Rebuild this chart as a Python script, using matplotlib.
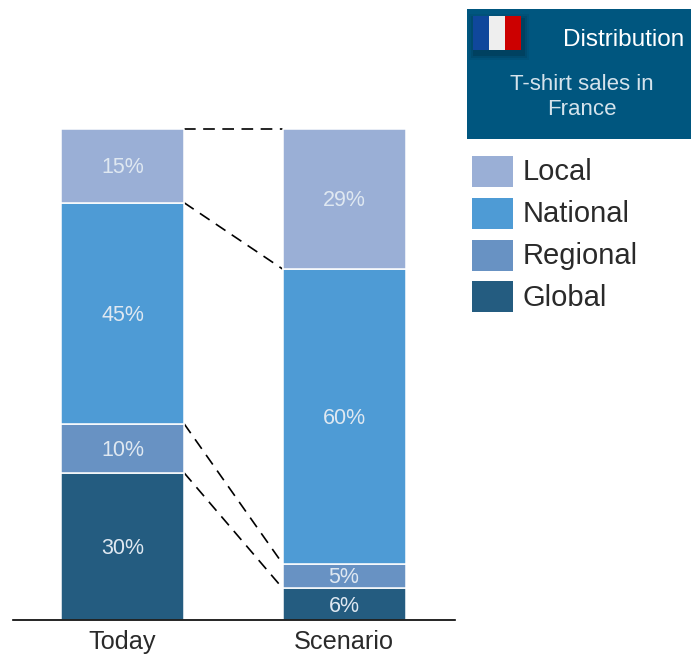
import numpy as np
import matplotlib
matplotlib.use('Agg')
import matplotlib.pyplot as plt
from matplotlib.patches import Rectangle

plt.rcParams['font.family'] = ['Liberation Sans', 'DejaVu Sans']

categories = ['Today', 'Scenario']
series = ['Global', 'Regional', 'National', 'Local']
# heights, the printed labels are rounded
global_share = [30, 6.5]
regional_share = [10, 5]
national_share = [45, 60]
local_share = [15, 28.5]
global_labels = ['30%', '6%']
regional_labels = ['10%', '5%']
national_labels = ['45%', '60%']
local_labels = ['15%', '29%']
colors = ['#245c80', '#6892c3', '#4e9bd5', '#9aafd6']
legend_order = ['Local', 'National', 'Regional', 'Global']

W, H = 691, 657
fig = plt.figure(figsize=(W / 100, H / 100), dpi=100)
# axes box: x 13-455 px, y 129-620 px
ax = fig.add_axes([13 / W, 1 - 620 / H, 442 / W, 491 / H])

x = np.array([0, 1])
gap = 221.5
width = 123 / gap
ax.set_xlim(-(122.5 - 13) / gap, (455 - 122.5) / gap)
ax.set_ylim(0, 100)

values = [global_share, regional_share, national_share, local_share]
labels = [global_labels, regional_labels, national_labels, local_labels]
bottom = np.zeros(2)
tops = []
for vals, labs, c in zip(values, labels, colors):
    vals = np.array(vals)
    ax.bar(x, vals, width, bottom=bottom, color=c, edgecolor='white', linewidth=1.1, zorder=2, clip_on=False)
    for xi, v, b, lab in zip(x, vals, bottom, labs):
        ax.text(xi, b + v / 2 - 0.4, lab, color='#dfe8f1', fontsize=15.5,
                ha='center', va='center', zorder=3)
    bottom = bottom + vals
    tops.append(bottom.copy())

# dashed connectors between the stacks
for t in tops:
    ax.plot([width / 2, 1 - width / 2], t, color='black', lw=1.2, dashes=(7, 4.5), zorder=1, clip_on=False)

ax.set_xticks(x)
ax.set_xticklabels(categories, fontsize=18.2, color='#2a2a2a')
ax.tick_params(axis='x', length=0, pad=7.5)
ax.set_yticks([])
for s in ['top', 'left', 'right']:
    ax.spines[s].set_visible(False)
ax.spines['bottom'].set_linewidth(1.2)
ax.spines['bottom'].set_zorder(4)

# header box
bg = fig.add_axes([0, 0, 1, 1], zorder=5)
bg.set_xlim(0, W)
bg.set_ylim(H, 0)
bg.axis('off')
bg.add_patch(Rectangle((467, 9), 224, 130, color='#00567f', lw=0))
# soft flag shadow
for grow, alpha in zip([6, 4, 2], [0.05, 0.08, 0.12]):
    bg.add_patch(Rectangle((475 - grow, 20 - grow), 48 + 2 * grow, 34 + 2 * grow, color='black', alpha=alpha, lw=0))
bg.add_patch(Rectangle((473, 16), 16, 34, color='#0f479b', lw=0))
bg.add_patch(Rectangle((489, 16), 16, 34, color='#eeeeee', lw=0))
bg.add_patch(Rectangle((505, 16), 16, 34, color='#cc0000', lw=0))
bg.text(684, 39.5, 'Distribution', color='white', fontsize=17.5, ha='right', va='center')
bg.text(582, 97, 'T-shirt sales in\nFrance', color='#d5e3ec', fontsize=16, ha='center', va='center', linespacing=1.25)

# legend
legend_y = [156, 198, 240, 281]
for name, y0 in zip(legend_order, legend_y):
    c = colors[series.index(name)]
    bg.add_patch(Rectangle((472, y0), 41, 31, color=c, lw=0))
    bg.text(523, y0 + 16.5, name, color='#2a2a2a', fontsize=21, ha='left', va='center')

fig.savefig('out.png', dpi=100)
